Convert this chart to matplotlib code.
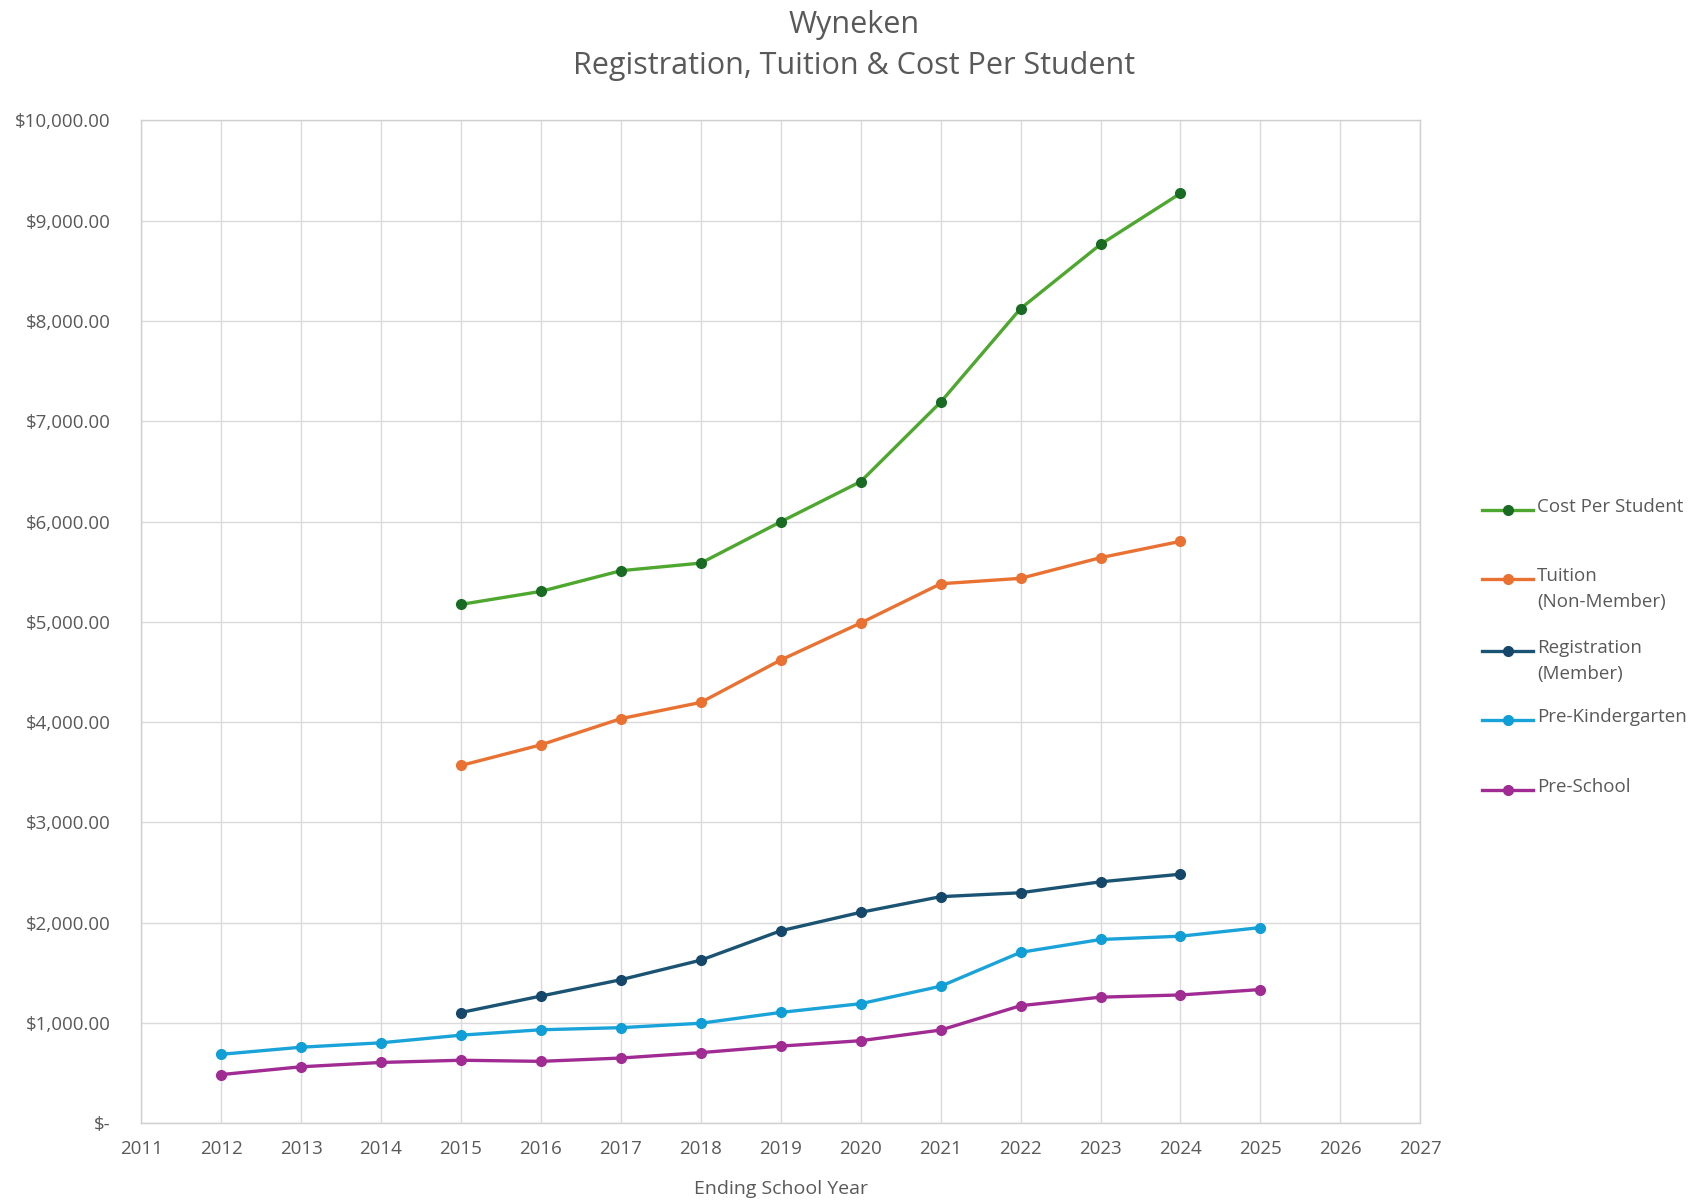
import matplotlib.pyplot as plt
from matplotlib.lines import Line2D
from matplotlib.ticker import FuncFormatter

plt.rcParams['font.family'] = ['Open Sans', 'DejaVu Sans']

# data
years_cost = [2015, 2016, 2017, 2018, 2019, 2020, 2021, 2022, 2023, 2024]
cost_per_student = [5174, 5304, 5510, 5586, 5998, 6399, 7191, 8124, 8764, 9273]
tuition = [3568, 3774, 4035, 4197, 4620, 4989, 5380, 5434, 5640, 5803]
registration = [1105, 1269, 1432, 1627, 1920, 2104, 2260, 2299, 2408, 2484]

years_pre = [2012, 2013, 2014, 2015, 2016, 2017, 2018, 2019, 2020, 2021, 2022, 2023, 2024, 2025]
pre_k = [688, 759, 803, 879, 933, 954, 998, 1106, 1193, 1367, 1705, 1833, 1866, 1952]
pre_school = [486, 564, 607, 629, 618, 651, 705, 770, 824, 930, 1173, 1258, 1280, 1334]

series = [
    ("Cost Per Student", years_cost, cost_per_student, "#4EA72E", "#196B24"),
    ("Tuition\n(Non-Member)", years_cost, tuition, "#E97132", "#E97132"),
    ("Registration\n(Member)", years_cost, registration, "#1B5373", "#15476A"),
    ("Pre-Kindergarten", years_pre, pre_k, "#1AA3D9", "#0F9ED5"),
    ("Pre-School", years_pre, pre_school, "#A02B93", "#A02B93"),
]

fig = plt.figure(figsize=(17.01, 12.04), dpi=100)
ax = fig.add_axes([0.083, 0.067, 0.752, 0.833])

for label, x, y, c, mc in series:
    ax.plot(x, y, color=c, lw=2.4, marker="o", ms=7, mfc=mc, mec=mc, zorder=3)

ax.set_xlim(2011, 2027)
ax.set_ylim(0, 10000)
ax.set_xticks(range(2011, 2028))
ax.set_yticks(range(0, 10001, 1000))


def money(v, pos):
    if v == 0:
        return "$-"
    return "${:,.2f}".format(v)


ax.yaxis.set_major_formatter(FuncFormatter(money))
ax.grid(True, color="#DADADA", lw=1.0)
for s in ax.spines.values():
    s.set_color("#D0D0D0")
    s.set_linewidth(1.0)
ax.tick_params(length=0, labelsize=13.5, colors="#595959", pad=12)
ax.tick_params(axis="y", pad=22)

ax.set_xlabel("Ending School Year", fontsize=14, color="#595959", labelpad=16)

fig.text(0.502, 0.992, "Wyneken\nRegistration, Tuition & Cost Per Student",
         ha="center", va="top", fontsize=22, color="#595959", linespacing=1.5)

# legend drawn by hand so the marker sits on the first text line
leg_y = [510, 579, 651, 720, 790]
H = 1204.0
W = 1701.0
for (label, x, y, c, mc), py in zip(series, leg_y):
    fy = 1 - py / H
    fig.add_artist(Line2D([1482 / W, 1533 / W], [fy, fy], color=c, lw=2.4))
    fig.add_artist(Line2D([1507.5 / W], [fy], color=mc, marker="o", ms=7))
    fig.text(1537 / W, fy + 12 / H, label, ha="left", va="top", fontsize=13.5,
             color="#595959", linespacing=1.55)

fig.savefig("out.png", dpi=100)
plt.close()
